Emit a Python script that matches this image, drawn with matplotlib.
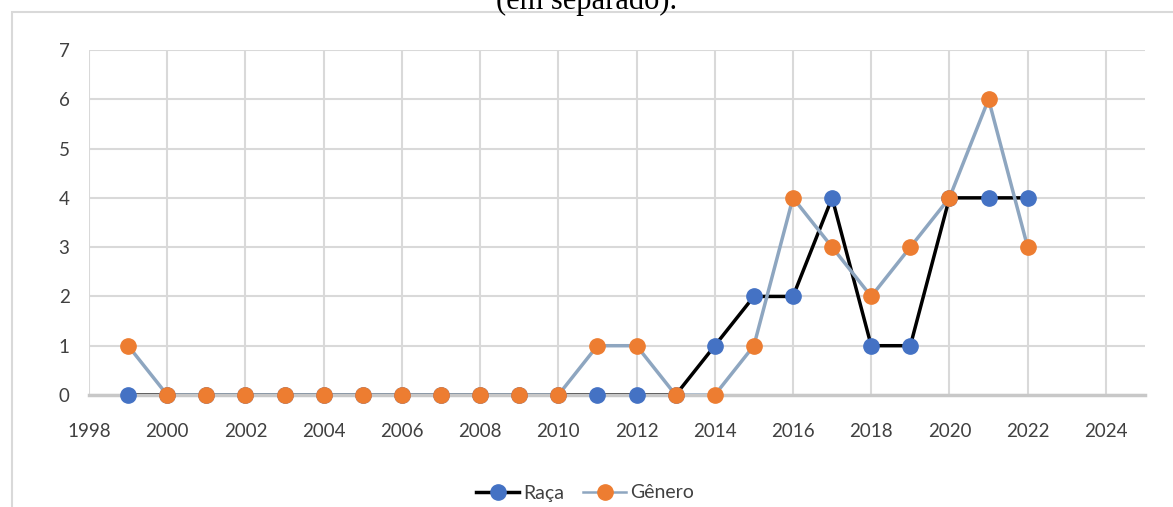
import matplotlib.pyplot as plt
from matplotlib.patches import Rectangle
from matplotlib.lines import Line2D

years = list(range(1999, 2023))
raca = [0, 0, 0, 0, 0, 0, 0, 0, 0, 0, 0, 0, 0, 0, 0, 1, 2, 2, 4, 1, 1, 4, 4, 4]
genero = [1, 0, 0, 0, 0, 0, 0, 0, 0, 0, 0, 0, 1, 1, 0, 0, 1, 4, 3, 2, 3, 4, 6, 3]
xticks = list(range(1998, 2025, 2))
yticks = list(range(0, 8))

plt.rcParams['font.family'] = ['Lato', 'DejaVu Sans']

fig = plt.figure(figsize=(11.73, 5.07), dpi=100)
ax = fig.add_axes([89/1173, 1-395/507, (1145-89)/1173, (395-50)/507])

# chart frame (partly outside the picture)
fig.patches.append(Rectangle((12/1173, -0.5), 2, 1-12/507+0.5, transform=fig.transFigure,
                             fill=False, edgecolor='#d9d9d9', lw=1.5))
fig.text(0.5, 1-9/507, '(em separado).', ha='center', va='baseline',
         fontsize=22, family='Liberation Serif', color='black')

# lines (clipped, under the axis line), then markers on top
ax.plot(years, raca, color='black', lw=2.5, zorder=3)
ax.plot(years, genero, color='#8EA6C0', lw=2.5, zorder=3.2)
ax.plot(years, raca, ls='none', marker='o', ms=11, mfc='#4472C4', mec='#4472C4',
        zorder=5, clip_on=False)
ax.plot(years, genero, ls='none', marker='o', ms=11, mfc='#ED7D31', mec='#ED7D31',
        zorder=6, clip_on=False)

ax.set_xlim(1998, 2025)
ax.set_ylim(0, 7)
ax.set_xticks(xticks)
ax.set_yticks(yticks)
ax.grid(True, color='#d9d9d9', lw=1.5)
ax.set_axisbelow(True)
for s in ['top', 'right', 'left']:
    ax.spines[s].set_visible(False)
ax.spines['bottom'].set_color('#c8c8c8')
ax.spines['bottom'].set_linewidth(2.5)
ax.spines['bottom'].set_zorder(4)
ax.tick_params(length=0, labelsize=13.5, colors='#404040')
ax.tick_params(axis='x', pad=20)
ax.tick_params(axis='y', pad=14)

handles = [
    Line2D([], [], color='black', lw=2.5, marker='o', ms=11, mfc='#4472C4', mec='#4472C4'),
    Line2D([], [], color='#8EA6C0', lw=1.8, marker='o', ms=11, mfc='#ED7D31', mec='#ED7D31'),
]
ax.legend(handles, ['Raça', 'Gênero'], loc='center', bbox_to_anchor=(585/1173, 1-493/507),
          bbox_transform=fig.transFigure, ncol=2, frameon=False, fontsize=14,
          handlelength=2.2, columnspacing=1.0, handletextpad=0.2, labelcolor='#404040')

plt.savefig('out.png')
